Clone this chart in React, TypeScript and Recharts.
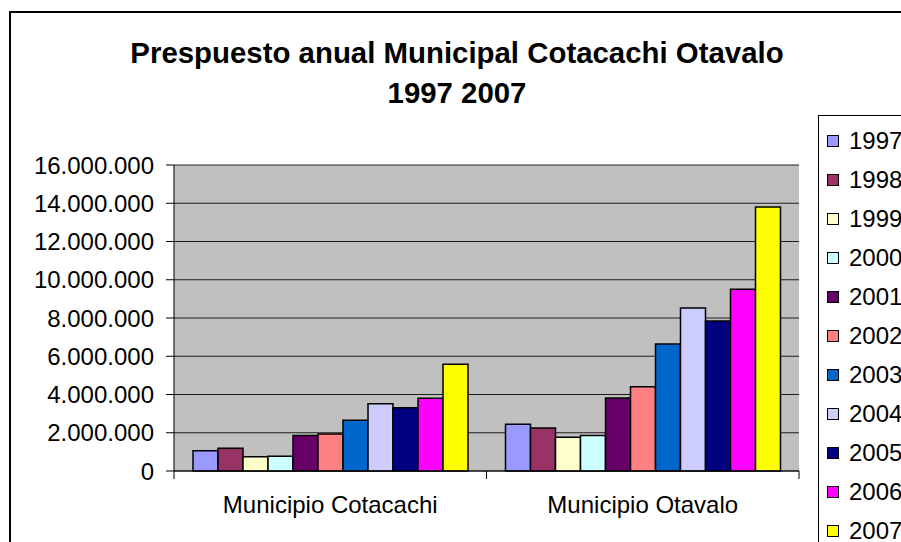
import { Bar, BarChart, CartesianGrid, Legend, XAxis, YAxis } from "recharts";

const municipios = ["Municipio Cotacachi", "Municipio Otavalo"];
const years = ["1997", "1998", "1999", "2000", "2001", "2002", "2003", "2004", "2005", "2006", "2007"];
const colors = ["#9999FF", "#993366", "#FFFFCC", "#CCFFFF", "#660066", "#FF8080", "#0066CC", "#CCCCFF", "#000080", "#FF00FF", "#FFFF00"];
const cotacachi = [1060000, 1190000, 750000, 770000, 1850000, 1930000, 2650000, 3520000, 3310000, 3800000, 5580000];
const otavalo = [2440000, 2250000, 1760000, 1850000, 3820000, 4410000, 6640000, 8520000, 7840000, 9500000, 13800000];
const yTicks = [0, 2000000, 4000000, 6000000, 8000000, 10000000, 12000000, 14000000, 16000000];

const series = [cotacachi, otavalo];
const data = municipios.map((name, i) => {
  const row: Record<string, string | number> = { name };
  years.forEach((y, j) => {
    row["y" + y] = series[i][j];
  });
  return row;
});

const FONT = '"Liberation Sans", Arial, sans-serif';
const PLOT_LEFT = 174;
const PLOT_RIGHT = 799;
const BAND = (PLOT_RIGHT - PLOT_LEFT) / municipios.length;

const fmt = (v: number) => v.toString().replace(/\B(?=(\d{3})+(?!\d))/g, ".");

// category label plus the Excel-style tick marks between categories
function CatTick(props: any) {
  const { x, y, payload, index } = props;
  const last = index === municipios.length - 1;
  return (
    <g>
      <line x1={x - BAND / 2} x2={x - BAND / 2} y1={y - 8} y2={y} stroke="#000" />
      {last && <line x1={x + BAND / 2} x2={x + BAND / 2} y1={y - 8} y2={y} stroke="#000" />}
      <text x={x} y={y + 34} textAnchor="middle" fontSize={24} fontFamily={FONT} fill="#000">
        {payload.value}
      </text>
    </g>
  );
}

function LegendBox(props: any) {
  const items = props.payload || [];
  return (
    <div
      style={{
        border: "1px solid #000",
        width: 120,
        height: 460,
        background: "#fff",
        fontFamily: FONT,
        fontSize: 24,
        paddingTop: 5,
        boxSizing: "border-box",
      }}
    >
      {items.map((it: any) => (
        <div key={it.value} style={{ height: 39, display: "flex", alignItems: "center" }}>
          <span
            style={{
              display: "inline-block",
              width: 10,
              height: 10,
              background: it.color,
              border: "1px solid #000",
              marginLeft: 8,
              marginRight: 10,
            }}
          />
          <span>{it.value}</span>
        </div>
      ))}
    </div>
  );
}

export default function App() {
  return (
    <div style={{ position: "absolute", left: 0, top: 0, width: 901, height: 542, overflow: "hidden", background: "#fff" }}>
      <div
        style={{
          position: "absolute",
          left: 9,
          top: 11,
          width: 1000,
          height: 1000,
          border: "2px solid #000",
        }}
      />
      <div
        style={{
          position: "absolute",
          left: 0,
          top: 33,
          width: 914,
          textAlign: "center",
          fontFamily: FONT,
          fontWeight: "bold",
          fontSize: 29.4,
          lineHeight: "40px",
        }}
      >
        Prespuesto anual Municipal Cotacachi Otavalo
        <br />
        1997 2007
      </div>
      <div style={{ position: "absolute", left: 0, top: 0 }}>
        <BarChart
          width={901}
          height={542}
          data={data}
          margin={{ top: 165, right: 901 - PLOT_RIGHT, bottom: 11, left: 0 }}
          barCategoryGap={19}
          barGap={0}
        >
          <CartesianGrid fill="#C0C0C0" vertical={false} stroke="#000" strokeOpacity={0.85} />
          <XAxis
            dataKey="name"
            height={60}
            tickLine={false}
            axisLine={{ stroke: "#000" }}
            tick={<CatTick />}
            interval={0}
          />
          <YAxis
            width={PLOT_LEFT}
            domain={[0, 16000000]}
            ticks={yTicks}
            tickFormatter={fmt}
            tickSize={8}
            tickMargin={12}
            axisLine={{ stroke: "#000" }}
            tickLine={{ stroke: "#000" }}
            tick={{ fill: "#000", fontSize: 24, fontFamily: FONT }}
            interval={0}
          />
          <YAxis
            yAxisId="r"
            orientation="right"
            width={0}
            domain={[0, 1]}
            tick={false}
            tickLine={false}
            axisLine={{ stroke: "#808080" }}
          />
          <Legend
            layout="horizontal"
            verticalAlign="middle"
            align="center"
            wrapperStyle={{ position: "absolute", left: 818, top: 115, width: 120 }}
            content={<LegendBox />}
          />
          {years.map((y, j) => (
            <Bar
              key={y}
              dataKey={"y" + y}
              name={y}
              fill={colors[j]}
              stroke="#000"
              strokeWidth={1.5}
              isAnimationActive={false}
            />
          ))}
        </BarChart>
      </div>
    </div>
  );
}
